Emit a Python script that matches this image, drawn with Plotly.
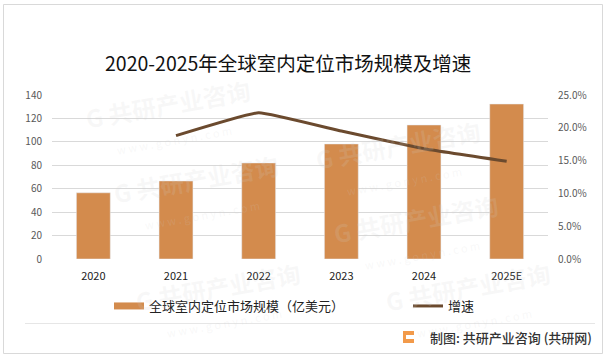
import plotly.graph_objects as go

# ---- data ----
years = ["2020", "2021", "2022", "2023", "2024", "2025E"]
market_size = [56.5, 66.6, 82.0, 98.2, 114.4, 132.3]
growth_years = ["2021", "2022", "2023", "2024", "2025E"]
growth_rate = [0.188, 0.223, 0.195, 0.168, 0.149]
left_ticks = [0, 20, 40, 60, 80, 100, 120, 140]
right_ticks = [0.0, 0.05, 0.10, 0.15, 0.20, 0.25]

bar_name = "全球室内定位市场规模（亿美元）"
line_name = "增速"
title_text = "2020-2025年全球室内定位市场规模及增速"
footer_text = "制图: 共研产业咨询 (共研网)"

# ---- geometry ----
W, H = 608, 361
L, R, T, B = 52, 60, 95, 102
PW = W - L - R
PH = H - T - B


def px(x):
    return (x - L) / PW


def py(y):
    return (H - B - y) / PH


CJK = "Noto Sans CJK SC"
BAR_COLOR = "#D38B4D"
LINE_COLOR = "#6B4A2E"

fig = go.Figure()
fig.add_trace(go.Bar(x=years, y=market_size, marker_color=BAR_COLOR,
                     showlegend=False, yaxis="y", hoverinfo="skip"))
fig.add_trace(go.Scatter(x=growth_years, y=growth_rate, yaxis="y2", mode="lines",
                         line=dict(color=LINE_COLOR, width=3, shape="spline", smoothing=0.3),
                         name=line_name, legend="legend2"))
fig.add_trace(go.Scatter(x=[None], y=[None], mode="lines",
                         line=dict(color=BAR_COLOR, width=7),
                         name=bar_name, legend="legend"))

# watermarks (faint)
wm_pos = [(170, 117), (198, 192), (400, 158), (418, 232), (220, 300), (470, 300)]
annotations = []
for (wx, wy) in wm_pos:
    annotations.append(dict(
        x=px(wx), y=py(wy), xref="paper", yref="paper", showarrow=False,
        xanchor="center", yanchor="middle", textangle=-10,
        text="<b>G 共研产业咨询</b><br><span style='font-size:11px'>w w w . g o n y n . c o m</span>",
        font=dict(family=CJK, size=24, color="rgba(210,210,210,0.16)")))

annotations.append(dict(
    x=px(288), y=py(62), xref="paper", yref="paper", showarrow=False,
    xanchor="center", yanchor="middle", text=title_text,
    font=dict(family=CJK, size=19.5, color="#111111")))
annotations.append(dict(
    x=px(594), y=py(337), xref="paper", yref="paper", showarrow=False,
    xanchor="right", yanchor="middle", text=footer_text,
    font=dict(family=CJK, size=13, color="#333333", weight=500)))

shapes = [
    dict(type="rect", xref="paper", yref="paper", x0=px(3.5), x1=px(602.5),
         y0=py(353.5), y1=py(4.5), line=dict(color="#d9d9d9", width=1), layer="below"),
    dict(type="line", xref="paper", yref="paper", x0=px(25), x1=px(595),
         y0=py(323.5), y1=py(323.5), line=dict(color="#e6e6e6", width=1)),
    dict(type="rect", xref="paper", yref="paper", x0=px(403), x1=px(414),
         y0=py(343), y1=py(331), fillcolor="#F29A4A", line=dict(width=0)),
    dict(type="rect", xref="paper", yref="paper", x0=px(406), x1=px(414),
         y0=py(339), y1=py(335), fillcolor="white", line=dict(width=0)),
]

fig.update_layout(
    width=W, height=H, autosize=False,
    margin=dict(l=L, r=R, t=T, b=B, pad=0, autoexpand=False),
    paper_bgcolor="white", plot_bgcolor="white",
    font=dict(family=CJK, color="#333333"),
    bargap=0.59,
    xaxis=dict(type="category", showgrid=False, showline=False, zeroline=False,
               ticks="", tickfont=dict(family=CJK, size=11, color="#222222"),
               ticklabelstandoff=9),
    yaxis=dict(range=[0, 140], tickvals=left_ticks, showgrid=True, gridcolor="#d9d9d9",
               gridwidth=1, zeroline=False, showline=False, ticks="",
               tickfont=dict(family=CJK, size=10, color="#595959"), ticklabelstandoff=9),
    yaxis2=dict(range=[0, 0.25], tickvals=right_ticks, tickformat=".1%", overlaying="y",
                side="right", showgrid=False, zeroline=False, showline=False, ticks="",
                tickfont=dict(family=CJK, size=10, color="#595959"), ticklabelstandoff=9),
    legend=dict(orientation="h", xref="container", yref="container",
                x=109 / W, y=1 - 306 / H, xanchor="left", yanchor="middle",
                font=dict(family=CJK, size=13, color="#222222"), bgcolor="rgba(0,0,0,0)",
                itemwidth=30),
    legend2=dict(orientation="h", xref="container", yref="container",
                 x=408 / W, y=1 - 306 / H, xanchor="left", yanchor="middle",
                 font=dict(family=CJK, size=13, color="#222222"), bgcolor="rgba(0,0,0,0)",
                 itemwidth=30),
    annotations=annotations,
    shapes=shapes,
)

fig.write_html("out.html", config={"displayModeBar": False},
               post_script="document.body.style.margin='0';document.body.style.padding='0';")
